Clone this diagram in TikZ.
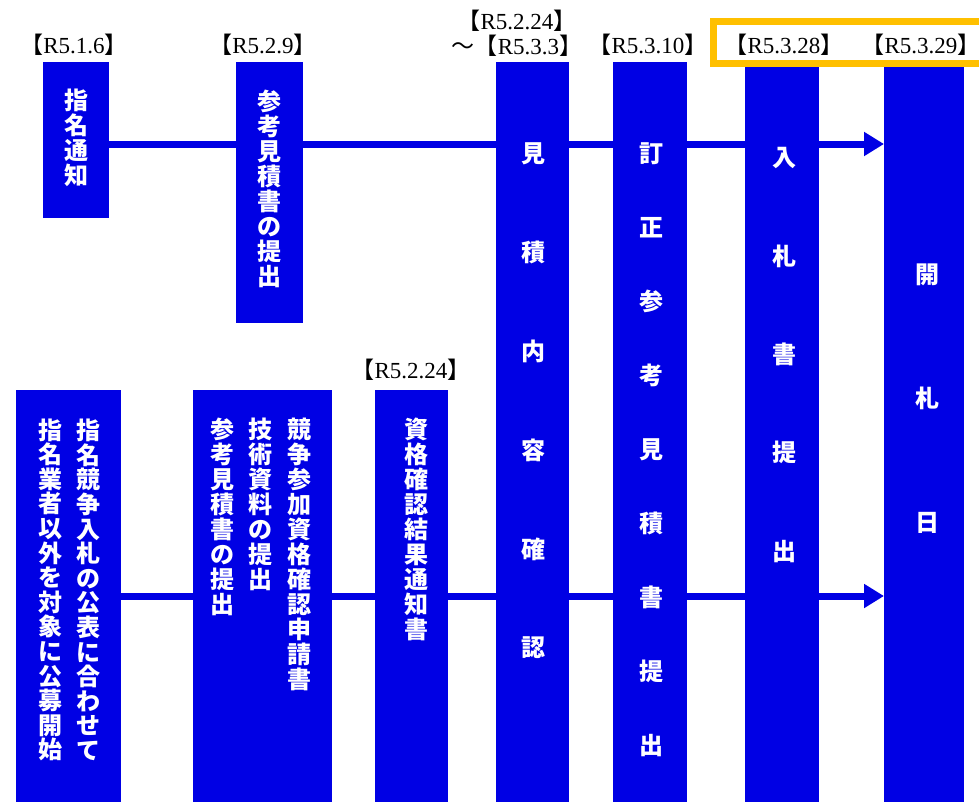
\documentclass[tikz,border=0pt]{standalone}
\usepackage{fontspec}
\setmainfont{Liberation Serif}
\newfontfamily\cjk{Noto Sans CJK JP}
\usetikzlibrary{arrows.meta}

\definecolor{barblue}{RGB}{0,0,228}
\definecolor{markyellow}{RGB}{255,192,0}

% stack the characters of a word one under the other
\makeatletter
\def\tate#1{\tate@a#1\relax}
\def\tate@a#1#2{#1\ifx\relax#2\expandafter\@gobble\else\expandafter\tate@b\fi{#2}}
\def\tate@b#1{\\\tate@a#1}
\makeatother
\newcommand\kakko[1]{{\cjk 【}#1{\cjk 】}}

\begin{document}
\begin{tikzpicture}[
    x=1pt, y=-1pt,
    bar/.style={fill=barblue, inner sep=0pt, anchor=north west},
    vt/.style={text=white, align=center, inner sep=0pt,
        font=\cjk\bfseries\fontsize{24}{25}\selectfont},
    vtwide/.style={vt, font=\cjk\bfseries\fontsize{24}{#1}\selectfont},
    date/.style={inner sep=0pt, font=\fontsize{23}{25}\selectfont},
    flow/.style={barblue, line width=7pt},
    arr/.style={flow, -{Triangle[length=20pt, width=23pt]}}
]

\path[use as bounding box, fill=white] (0,0) rectangle (979,801);

% upper row
\node[bar, minimum width=66pt, minimum height=156pt] (t1) at (43,62) {};
\node[bar, minimum width=67pt, minimum height=261pt] (t2) at (236,62) {};
\node[bar, minimum width=73pt, minimum height=744pt] (t3) at (496,62) {};
\node[bar, minimum width=74pt, minimum height=744pt] (t4) at (613,62) {};
\node[bar, minimum width=74pt, minimum height=744pt] (t5) at (745,62) {};
\node[bar, minimum width=80pt, minimum height=744pt] (t6) at (884,62) {};

% lower row
\node[bar, minimum width=105pt, minimum height=416pt] (u1) at (16,390) {};
\node[bar, minimum width=139pt, minimum height=416pt] (u2) at (193,390) {};
\node[bar, minimum width=73pt, minimum height=416pt] (u3) at (375,390) {};

\node[vt] (t1l) at (76,138) {\tate{指名通知}};
\node[vt] (t2l) at (269,189) {\tate{参考見積書の提出}};
\node[vtwide=98.8] (t3l) at (533,401) {\tate{見積内容確認}};
\node[vtwide=74] (t4l) at (651,450) {\tate{訂正参考見積書提出}};
\node[vtwide=98.3] (t5l) at (784,355) {\tate{入札書提出}};
\node[vtwide=124] (t6l) at (927,399) {\tate{開札日}};

\node[vtwide=24.6] (u1r) at (88.5,590) {\tate{指名競争入札の公表に合わせて}};
\node[vtwide=24.6] (u1l) at (50,590) {\tate{指名業者以外を対象に公募開始}};
\node[vt] (u2r) at (299.5,554) {\tate{競争参加資格確認申請書}};
\node[vt] (u2m) at (260,504) {\tate{技術資料の提出}};
\node[vt] (u2l) at (222.5,517) {\tate{参考見積書の提出}};
\node[vt] (u3l) at (416.5,529) {\tate{資格確認結果通知書}};

% dates
\node[date] (d1) at (74,45) {\kakko{R5.1.6}};
\node[date] (d2) at (263,45) {\kakko{R5.2.9}};
\node[date, align=center] (d3) at (517,33) {\kakko{R5.2.24}\\{\cjk ～}\kakko{R5.3.3}};
\node[date] (d4) at (648,45) {\kakko{R5.3.10}};
\node[date] (d5) at (784,45) {\kakko{R5.3.28}};
\node[date] (d6) at (921,45) {\kakko{R5.3.29}};
\node[date] (d7) at (411,370) {\kakko{R5.2.24}};

\coordinate (up) at (0,144);
\coordinate (lo) at (0,596);

\draw[flow] (t1.east |- up) -- (t2.west |- up);
\draw[flow] (t2.east |- up) -- (t3.west |- up);
\draw[flow] (t3.east |- up) -- (t4.west |- up);
\draw[flow] (t4.east |- up) -- (t5.west |- up);
\draw[arr] (t5.east |- up) -- (t6.west |- up);

\draw[flow] (u1.east |- lo) -- (u2.west |- lo);
\draw[flow] (u2.east |- lo) -- (u3.west |- lo);
\draw[flow] (u3.east |- lo) -- (t3.west |- lo);
\draw[flow] (t3.east |- lo) -- (t4.west |- lo);
\draw[flow] (t4.east |- lo) -- (t5.west |- lo);
\draw[arr] (t5.east |- lo) -- (t6.west |- lo);

% highlight frame
\draw[markyellow, line width=7pt] (713,21.5) rectangle (995,63.5);

\end{tikzpicture}
\end{document}
